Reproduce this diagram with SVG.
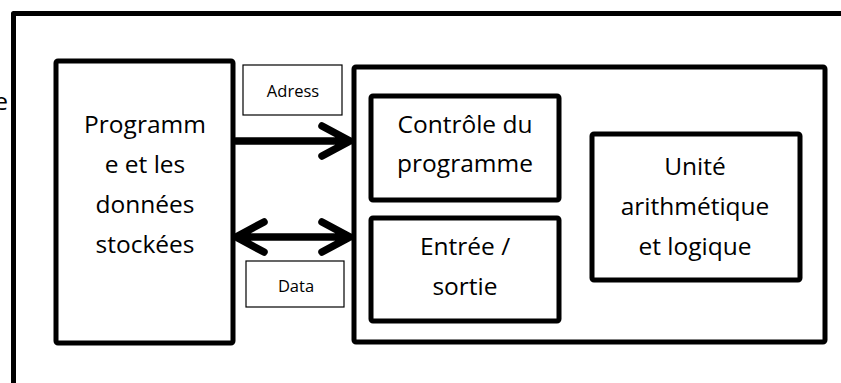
<svg xmlns="http://www.w3.org/2000/svg" width="841" height="383" viewBox="0 0 841 383">
<style>
.box{fill:none;stroke:#000;stroke-width:5;stroke-linejoin:round}
.lbl{fill:none;stroke:#000;stroke-width:1.2}
.t{font-family:"Open Sans","Liberation Sans",sans-serif;font-size:24.5px;fill:#000;text-anchor:middle}
.s{font-family:"Open Sans","Liberation Sans",sans-serif;font-size:16.5px;fill:#000;text-anchor:middle}
.c{fill:none;stroke:#000;stroke-width:7.5;stroke-linecap:round;stroke-linejoin:round}
</style>
<rect width="841" height="383" fill="#fff"/>
<g id="frame">
<rect class="box" x="13.5" y="13.5" width="900" height="500"/>
<text class="t" x="8" y="110" style="text-anchor:end">e</text>
</g>
<g id="memory">
<rect class="box" x="56" y="61" width="177" height="282" rx="2"/>
<text class="t" x="145" y="133">Programm</text>
<text class="t" x="145" y="173">e et les</text>
<text class="t" x="145" y="213">données</text>
<text class="t" x="145" y="253">stockées</text>
</g>
<g id="cpu">
<rect class="box" x="354" y="67" width="471" height="275" rx="2"/>
</g>
<g id="control">
<rect class="box" x="371" y="96" width="188" height="104" rx="2"/>
<text class="t" x="465" y="133">Contrôle du</text>
<text class="t" x="465" y="172">programme</text>
</g>
<g id="io">
<rect class="box" x="371" y="218" width="188" height="103" rx="2"/>
<text class="t" x="465" y="255">Entrée /</text>
<text class="t" x="465" y="295">sortie</text>
</g>
<g id="alu">
<rect class="box" x="592" y="134" width="208" height="146" rx="2"/>
<text class="t" x="695" y="175">Unité</text>
<text class="t" x="695" y="215">arithmétique</text>
<text class="t" x="695" y="255">et logique</text>
</g>
<g id="adress">
<rect class="lbl" x="243" y="65" width="99" height="50"/>
<text class="s" x="293" y="97">Adress</text>
</g>
<g id="data">
<rect class="lbl" x="246" y="261" width="98" height="46"/>
<text class="s" x="296" y="292">Data</text>
</g>
<g id="connectors">
<path class="c" d="M236 141 H350 M322 126 L350 141 L322 156"/>
<path class="c" d="M236 237 H350 M322 222 L350 237 L322 252 M264 222 L236 237 L264 252"/>
</g>
</svg>
